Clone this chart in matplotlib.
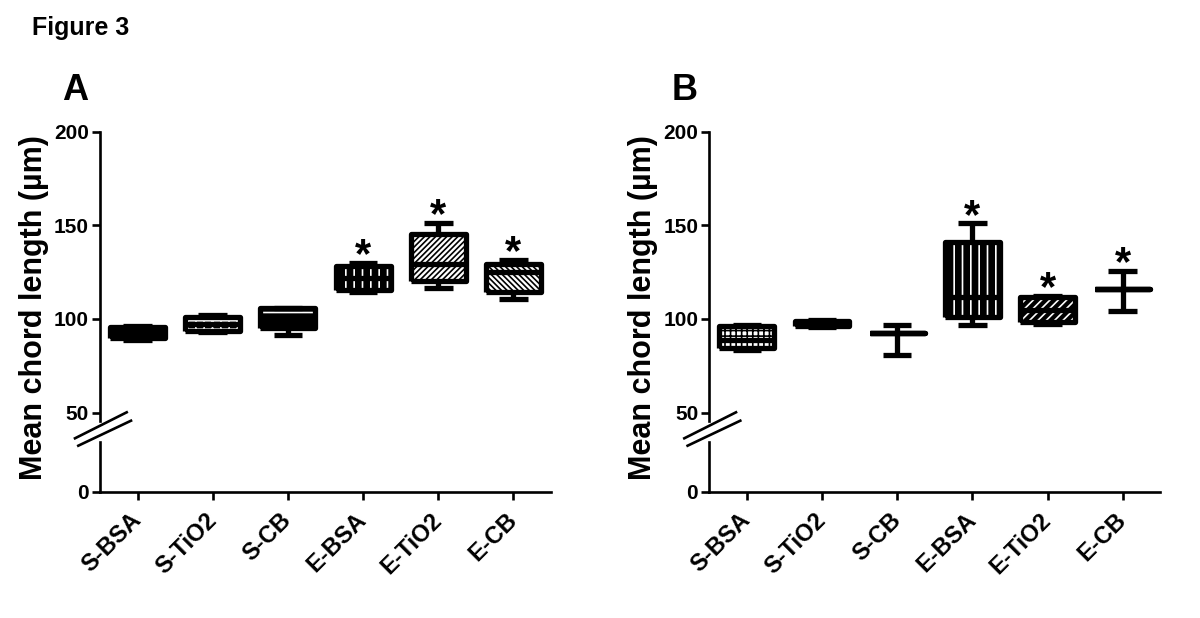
import matplotlib
matplotlib.use('Agg')
import matplotlib.pyplot as plt
from matplotlib.lines import Line2D
from matplotlib.patches import Rectangle

plt.rcParams['font.family'] = ['Liberation Sans', 'DejaVu Sans']
plt.rcParams['font.weight'] = 'bold'
plt.rcParams['hatch.linewidth'] = 1.2

groups = ['S-BSA', 'S-TiO2', 'S-CB', 'E-BSA', 'E-TiO2', 'E-CB']

# panel A: whisker low, q1, median, q3, whisker high
a_min = [88.5, 92.8, 91.5, 114.5, 116.5, 110.5]
a_q1 = [89.7, 93.3, 95.0, 115.5, 120.0, 114.5]
a_med = [92.5, 97.5, 100.0, 122.0, 129.5, 125.0]
a_q3 = [95.5, 100.9, 105.8, 128.5, 145.5, 129.5]
a_max = [96.2, 102.0, 106.0, 130.0, 151.5, 131.5]
a_star = [False, False, False, True, True, True]

# panel B
b_min = [83.5, 95.5, 80.8, 97.0, 97.5, 104.5]
b_q1 = [84.5, 96.2, 92.5, 101.0, 98.5, 116.0]
b_med = [89.0, 97.5, 92.5, 111.5, 105.0, 116.0]
b_q3 = [96.0, 98.8, 92.5, 141.0, 111.5, 116.0]
b_max = [97.0, 99.5, 96.8, 151.0, 112.5, 125.7]
b_star = [False, False, False, True, True, True]

# box fill: (face colour, hatch colour, hatch)
a_fill = [('black', 'white', '..'), ('black', 'white', '++'), ('black', 'white', '--'),
          ('black', 'white', '||'), ('white', 'black', '//////'),
          ('white', 'black', '\\\\\\\\\\\\')]
b_fill = [('white', 'black', '+++'), ('black', 'black', ''), ('black', 'black', ''),
          ('black', 'white', '||'), ('black', 'white', '////'), ('black', 'black', '')]

W, H = 1200, 618
LW = 3.8
BOXW = 0.73


def panel(fig, spine_x, mins, q1s, meds, q3s, maxs, stars, fills, letter):
    left = spine_x / W
    width = 451 / W
    up = fig.add_axes([left, 1 - 421 / H, width, (421 - 131.7) / H])
    lo = fig.add_axes([left, 1 - 491.7 / H, width, (491.7 - 442) / H])

    stats = []
    for i in range(len(groups)):
        stats.append(dict(whislo=mins[i], q1=q1s[i], med=meds[i], q3=q3s[i],
                          whishi=maxs[i], fliers=[], label=groups[i]))
    pos = list(range(1, len(groups) + 1))

    # hatched fill behind the outlines
    for i, (fc, hc, hatch) in enumerate(fills):
        x0 = pos[i] - BOXW / 2
        up.add_patch(Rectangle((x0, q1s[i]), BOXW, q3s[i] - q1s[i], facecolor=fc,
                               edgecolor='none', linewidth=0, zorder=2))
        if hatch:
            up.add_patch(Rectangle((x0, q1s[i]), BOXW, q3s[i] - q1s[i], fill=False,
                                   edgecolor=hc, linewidth=0, hatch=hatch, zorder=2.1))

    # outlines, whiskers, caps
    line = dict(color='black', linewidth=LW, solid_joinstyle='round', solid_capstyle='butt')
    up.bxp(stats, positions=pos, widths=BOXW, capwidths=0.38, showfliers=False,
           boxprops=line, whiskerprops=line, capprops=line, medianprops=line,
           manage_ticks=False, zorder=3)

    for i in range(len(groups)):
        if stars[i]:
            up.annotate('*', (pos[i], maxs[i]), xytext=(0, -3), textcoords='offset points',
                        ha='center', va='baseline', fontsize=30, annotation_clip=False)

    for ax in (up, lo):
        ax.set_xlim(0.5, 6.5)
        ax.spines['top'].set_visible(False)
        ax.spines['right'].set_visible(False)
        for s in ax.spines.values():
            s.set_linewidth(1.9)
        ax.tick_params(axis='both', length=6, width=1.9, labelsize=15, pad=2)
        ax.patch.set_visible(False)

    up.set_ylim(45.5, 200)
    up.set_yticks([50, 100, 150, 200])
    up.spines['bottom'].set_visible(False)
    up.set_xticks([])

    lo.set_ylim(0, 26.5)
    lo.set_yticks([0])
    lo.set_xticks(pos)
    lo.set_xticklabels(groups, rotation=45, ha='right', va='center',
                       rotation_mode='anchor', fontsize=17)
    lo.tick_params(axis='x', pad=12)

    # break marks
    for x0, y0, x1, y1 in [(-25, 438.3, 26.7, 412.3), (-21.7, 445.7, 31, 420.7)]:
        fig.add_artist(Line2D([(spine_x + x0) / W, (spine_x + x1) / W],
                              [1 - y0 / H, 1 - y1 / H], color='black', linewidth=1.9))

    fig.text((spine_x - 66) / W, 1 - 308 / H, 'Mean chord length (µm)', rotation=90,
             ha='center', va='center', fontsize=22)
    fig.text((spine_x - 25) / W, 1 - 90 / H, letter, ha='center', va='center', fontsize=26)


fig = plt.figure(figsize=(12, 6.18), dpi=100)
fig.text(32 / W, 1 - 27.5 / H, 'Figure 3', ha='left', va='center', fontsize=18)
panel(fig, 100, a_min, a_q1, a_med, a_q3, a_max, a_star, a_fill, 'A')
panel(fig, 709.3, b_min, b_q1, b_med, b_q3, b_max, b_star, b_fill, 'B')
fig.savefig('out.png', dpi=100)
